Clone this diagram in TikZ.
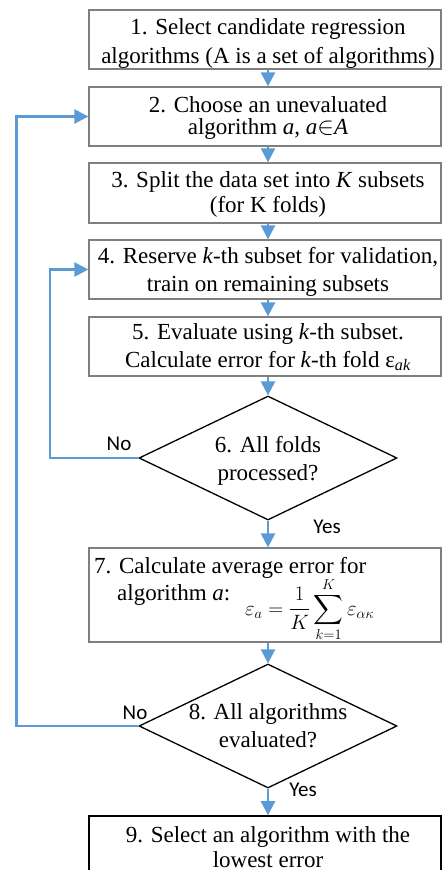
\documentclass[tikz,border=0pt]{standalone}
\usepackage{amsmath}
\usepackage{fontspec}
\setmainfont{Liberation Serif}
\newfontfamily\labfont{Carlito}
\usetikzlibrary{arrows.meta,shapes.geometric}
\definecolor{flowblue}{HTML}{5B9BD5}
\definecolor{boxgray}{HTML}{7F7F7F}
\begin{document}
\begin{tikzpicture}[x=1pt,y=-1pt,
  box/.style={draw=boxgray,line width=1.3pt,inner sep=0pt,minimum width=352pt},
  dec/.style={draw=black,line width=1.3pt,diamond,inner sep=0pt,minimum width=258pt,minimum height=124pt},
  txt/.style={anchor=base,inner sep=0pt,font=\fontsize{23}{27}\selectfont},
  lab/.style={inner sep=0pt,font=\labfont\fontsize{21}{25}\selectfont},
  arr/.style={draw=flowblue,line width=2.5pt,-{Triangle[width=14pt,length=14pt]}}]
\useasboundingbox (0,0) rectangle (442,870);
% boxes
\node[box,minimum height=59pt] (b1) at (265,39.5) {};
\node[box,minimum height=59pt] (b2) at (265,116.5) {};
\node[box,minimum height=60pt] (b3) at (265,193) {};
\node[box,minimum height=59pt] (b4) at (265,269.5) {};
\node[box,minimum height=59pt] (b5) at (265,346.5) {};
\node[dec] (d6) at (268,458) {};
\node[box,minimum height=94pt] (b7) at (265,595) {};
\node[dec] (d8) at (268,726) {};
\node[box,draw=black,line width=1.6pt,minimum height=64pt] (b9) at (265,848) {};
% texts
\node[txt] (t1a) at (268,34) {1. Select candidate regression};
\node[txt] (t1b) at (268,63) {algorithms (A is a set of algorithms)};
\node[txt] (t2a) at (268,112) {2. Choose an unevaluated};
\node[txt] (t2b) at (268,134) {algorithm \textit{a}, \textit{a}$\in$\textit{A}};
\node[txt] (t3a) at (268,187) {3. Split the data set into \textit{K} subsets};
\node[txt] (t3b) at (268,212) {(for K folds)};
\node[txt] (t4a) at (268,263) {4. Reserve \textit{k}-th subset for validation,};
\node[txt] (t4b) at (268,291) {train on remaining subsets};
\node[txt] (t5a) at (268,339) {5. Evaluate using \textit{k}-th subset.};
\node[txt] (t5b) at (268,367) {Calculate error for \textit{k}-th fold ε\textsubscript{\textit{ak}}};
\node[txt] (t6a) at (268,452) {6. All folds};
\node[txt] (t6b) at (268,480) {processed?};
\node[txt,anchor=base west] (t7a) at (94,573) {7. Calculate average error for};
\node[txt,anchor=base west] (t7b) at (117,600) {algorithm \textit{a}:};
\node[txt,anchor=base west,font=\fontsize{21}{25}\selectfont] (t7c) at (245,615) {$\displaystyle \varepsilon_a=\frac{1}{K}\sum_{k=1}^{K}\varepsilon_{\alpha\kappa}$};
\node[txt] (t8a) at (268,719) {8. All algorithms};
\node[txt] (t8b) at (268,747) {evaluated?};
\node[txt] (t9a) at (268,842) {9. Select an algorithm with the};
\node[txt] (t9b) at (268,867) {lowest error};
% labels
\node[lab] (no6) at (119,444) {No};
\node[lab] (yes6) at (327,527) {Yes};
\node[lab] (no8) at (135,713) {No};
\node[lab] (yes8) at (303,790) {Yes};
% connectors
\coordinate (l6) at (50,0);
\coordinate (l8) at (16.5,0);
\draw[arr] (b1.south -| d6.north) -- (b2.north -| d6.north);
\draw[arr] (b2.south -| d6.north) -- (b3.north -| d6.north);
\draw[arr] (b3.south -| d6.north) -- (b4.north -| d6.north);
\draw[arr] (b4.south -| d6.north) -- (b5.north -| d6.north);
\draw[arr] (b5.south -| d6.north) -- (d6.north);
\draw[arr] (d6.south) -- (b7.north -| d6.north);
\draw[arr] (b7.south -| d6.north) -- (d8.north);
\draw[arr] (d8.south) -- (b9.north -| d8.north);
\draw[arr] (d6.west) -- (l6 |- d6.west) |- (b4.west);
\draw[arr] (d8.west) -- (l8 |- d8.west) |- (b2.west);
\end{tikzpicture}
\end{document}
